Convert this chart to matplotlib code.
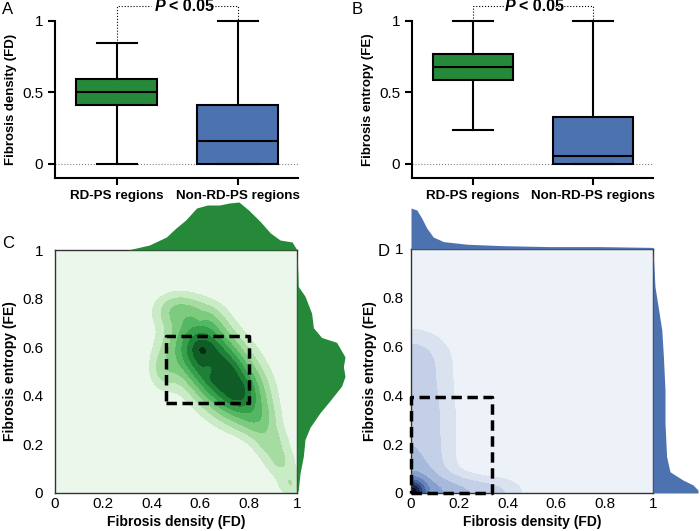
import numpy as np
import matplotlib
matplotlib.use("Agg")
import matplotlib.pyplot as plt

plt.rcParams['font.family'] = ['Liberation Sans', 'DejaVu Sans']

GREEN = "#26893a"
BLUE = "#4c72b0"

# box plot summaries: whisker low, q1, median, q3, whisker high
groups = ["RD-PS regions", "Non-RD-PS regions"]
fd_box = [[0.0, 0.41, 0.506, 0.594, 0.848], [0.0, 0.0, 0.156, 0.413, 1.0]]
fe_box = [[0.233, 0.587, 0.68, 0.767, 1.0], [0.0, 0.0, 0.051, 0.324, 1.0]]

# kde anchor points: fd, fe, weight, sx, sy
rd_anchors = [
    (0.58, 0.62, 1.0, 0.075, 0.075),
    (0.63, 0.56, 1.0, 0.075, 0.075),
    (0.68, 0.50, 1.0, 0.075, 0.075),
    (0.73, 0.44, 1.0, 0.075, 0.075),
    (0.78, 0.38, 0.8, 0.065, 0.065),
    (0.61, 0.59, 0.5, 0.03, 0.03),
    (0.70, 0.48, 0.4, 0.04, 0.04),
    (0.755, 0.415, 0.45, 0.035, 0.035),
    (0.607, 0.588, 0.3, 0.012, 0.012),
    (0.64, 0.51, -0.5, 0.018, 0.02),
    (0.51, 0.75, 0.5, 0.06, 0.045),
    (0.63, 0.71, 0.25, 0.05, 0.05),
    (0.60, 0.715, -0.15, 0.015, 0.02),
    (0.455, 0.51, 0.35, 0.04, 0.055),
    (0.84, 0.30, 0.5, 0.05, 0.05),
    (0.89, 0.21, 0.35, 0.045, 0.045),
    (0.93, 0.13, 0.28, 0.04, 0.04),
    (0.97, 0.05, 0.24, 0.035, 0.035),
    (0.99, 0.0, 0.15, 0.03, 0.03),
]
non_anchors = [
    (0.0, 0.0, 1.0, 0.035, 0.035),
    (0.0, 0.0, 0.3, 0.08, 0.08),
    (0.0, 0.10, 0.16, 0.11, 0.09),
    (0.0, 0.25, 0.16, 0.11, 0.09),
    (0.0, 0.40, 0.16, 0.11, 0.09),
    (0.0, 0.56, 0.15, 0.11, 0.08),
    (0.10, 0.0, 0.2, 0.08, 0.045),
    (0.22, 0.0, 0.16, 0.08, 0.045),
    (0.36, 0.0, 0.12, 0.08, 0.045),
]

# marginal curves
c_top_fd = [0.30, 0.39, 0.46, 0.50, 0.54, 0.585, 0.63, 0.68, 0.72, 0.76, 0.80, 0.85, 0.89, 0.93, 0.98, 1.0]
c_top_den = [0, 0.25, 0.65, 1.1, 1.5, 2.1, 2.25, 2.25, 2.35, 2.4, 2.0, 1.4, 0.85, 0.5, 0.4, 0]
c_right_fe = [0, 0.012, 0.08, 0.15, 0.22, 0.27, 0.33, 0.38, 0.44, 0.48, 0.52, 0.56, 0.62, 0.64, 0.68, 0.74, 0.81, 0.85, 1.0]
c_right_den = [0, 0.065, 0.15, 0.315, 0.4, 0.65, 1.15, 1.65, 2.23, 2.4, 2.32, 2.4, 1.98, 1.23, 0.82, 0.73, 0.4, 0.065, 0]
d_top_fd = [0, 0.024, 0.044, 0.065, 0.092, 0.134, 0.23, 0.37, 0.57, 0.78, 1.0, 1.0]
d_top_den = [2.05, 1.95, 1.55, 1.05, 0.6, 0.37, 0.24, 0.17, 0.12, 0.12, 0.08, 0]
d_right_fe = [0, 0.012, 0.033, 0.053, 0.087, 0.149, 0.286, 0.422, 0.559, 0.668, 0.845, 1.0]
d_right_den = [2.25, 2.25, 2.0, 1.5, 0.85, 0.68, 0.6, 0.6, 0.52, 0.44, 0.1, 0]

rd_box_fd = (0.46, 0.37, 0.80, 0.645)
non_box_fd = (0.0, 0.0, 0.335, 0.395)

fig = plt.figure(figsize=(7, 5.31), dpi=100)


def px_axes(l, t, r, b):
    return fig.add_axes([l / 700, 1 - b / 531, (r - l) / 700, (b - t) / 531])


def box_panel(ax, stats, ylabel, gap):
    bs = []
    for s in stats:
        bs.append(dict(whislo=s[0], q1=s[1], med=s[2], q3=s[3], whishi=s[4]))
    b = ax.bxp(bs, positions=[1, 2], widths=0.67, capwidths=[0.33, 0.33],
               patch_artist=True, showfliers=False,
               boxprops=dict(lw=1.5, edgecolor='black'),
               whiskerprops=dict(lw=1.5), capprops=dict(lw=1.5),
               medianprops=dict(color='black', lw=1.5))
    for patch, c in zip(b['boxes'], [GREEN, BLUE]):
        patch.set_facecolor(c)
    for k in ['caps', 'whiskers']:
        for ln in b[k]:
            ln.set_clip_on(False)
    ax.axhline(0, color='gray', ls=':', lw=0.8, zorder=0)
    ax.set_xlim(0.49, 2.5)
    ax.set_ylim(-0.1, 1.0)
    ax.set_yticks([0, 0.5, 1])
    ax.set_yticklabels(["0", "0.5", "1"], fontsize=11)
    ax.set_xticks([1, 2])
    ax.set_xticklabels(groups, fontsize=9.6, fontweight='bold')
    ax.tick_params(width=1.5, length=5)
    for sp in ['top', 'right']:
        ax.spines[sp].set_visible(False)
    for sp in ['left', 'bottom']:
        ax.spines[sp].set_linewidth(1.5)
    ax.set_ylabel(ylabel, fontsize=9.5, fontweight='bold', labelpad=4)
    ytop = 1.105
    kw = dict(color='black', ls=':', lw=0.8, clip_on=False)
    ax.plot([1, 1, gap[0]], [stats[0][4], ytop, ytop], **kw)
    ax.plot([gap[1], 2, 2], [ytop, ytop, stats[1][4]], **kw)
    cx = (gap[0] + gap[1]) / 2
    ax.text(cx - 0.12, ytop, "P", fontsize=11.5, fontweight='bold', style='italic',
            ha='right', va='center')
    ax.text(cx - 0.09, ytop, "< 0.05", fontsize=11.5, fontweight='bold',
            ha='left', va='center')


axA = px_axes(55, 21, 298, 178)
box_panel(axA, fd_box, "Fibrosis density (FD)", (1.28, 1.76))
axB = px_axes(412, 21, 653, 178)
box_panel(axB, fe_box, "Fibrosis entropy (FE)", (1.265, 1.68))
fig.text(2 / 700, 1 - 10 / 531, "A", fontsize=12, va='center')
fig.text(352 / 700, 1 - 10 / 531, "B", fontsize=12, va='center')


gx = np.linspace(0, 1, 300)
X, Y = np.meshgrid(gx, gx)


def density(anchors):
    Z = np.zeros_like(X)
    for x0, y0, w, sx, sy in anchors:
        Z += w * np.exp(-((X - x0) ** 2 / (2 * sx ** 2) + (Y - y0) ** 2 / (2 * sy ** 2)))
    Z = np.clip(Z, 0, None)
    return Z / Z.max()


def kde_panel(box, anchors, colors, levels, dbox, top, right, color, ypad):
    l, t, r, b = box
    ax = px_axes(l, t, r, b)
    Z = density(anchors)
    ax.contourf(X, Y, Z, levels=levels, colors=colors)
    x0, y0, x1, y1 = dbox
    ax.plot([x0, x1, x1, x0, x0], [y0, y0, y1, y1, y0], color='black', ls=(0, (3, 1.6)), lw=2.5,
            clip_on=False, zorder=5)
    ax.set_xlim(0, 1)
    ax.set_ylim(0, 1)
    ticks = [0, 0.2, 0.4, 0.6, 0.8, 1]
    labels = ["0", "0.2", "0.4", "0.6", "0.8", "1"]
    ax.set_xticks(ticks)
    ax.set_xticklabels(labels)
    ax.set_yticks(ticks)
    ax.set_yticklabels(labels)
    ax.tick_params(axis='x', length=0, pad=3, labelsize=11)
    ax.tick_params(axis='y', length=0, pad=ypad, labelsize=11)
    for sp in ax.spines.values():
        sp.set_color('#333333')
        sp.set_linewidth(1)
    ax.set_xlabel("Fibrosis density (FD)", fontsize=10, fontweight='bold', labelpad=3)
    ax.set_ylabel("Fibrosis entropy (FE)", fontsize=10, fontweight='bold', labelpad=4)

    axt = px_axes(l, t - top[2], r, t)
    axt.fill_between(top[0], 0, top[1], color=color, lw=0, clip_on=False)
    axt.set_xlim(0, 1)
    axt.set_ylim(0, top[2] / 20)
    axt.axis('off')

    axr = px_axes(r, t, r + right[2], b)
    axr.fill_betweenx(right[0], 0, right[1], color=color, lw=0, clip_on=False)
    axr.set_ylim(0, 1)
    axr.set_xlim(0, right[2] / 20)
    axr.axis('off')
    return ax


green_fills = ["#eaf7ea", "#c9ebc6", "#a6dca2", "#7dcb7e", "#55b663", "#36a04b",
               "#1f8038", "#0f5c26", "#062e12"]
blue_fills = ["#edf1f8", "#dae2f0", "#c3d0e7", "#a7badc", "#879fcd", "#6683bb",
              "#4765a0", "#2d4578", "#17264a", "#080f20"]

kde_panel((55, 250, 297, 493), rd_anchors, green_fills,
          [0, 0.04, 0.1, 0.18, 0.28, 0.39, 0.52, 0.68, 0.95, 1.01], rd_box_fd,
          (c_top_fd, c_top_den, 50), (c_right_fe, c_right_den, 50), GREEN, 8.5)
kde_panel((411, 249, 653, 493), non_anchors, blue_fills,
          [0, 0.04, 0.09, 0.17, 0.27, 0.38, 0.5, 0.63, 0.77, 0.9, 1.01], non_box_fd,
          (d_top_fd, d_top_den, 45), (d_right_fe, d_right_den, 47), BLUE, 5.5)

fig.text(2 / 700, 1 - 243 / 531, "C", fontsize=12, va='center')
fig.text(378 / 700, 1 - 251 / 531, "D", fontsize=12, va='center')

fig.savefig("out.png", dpi=100)
